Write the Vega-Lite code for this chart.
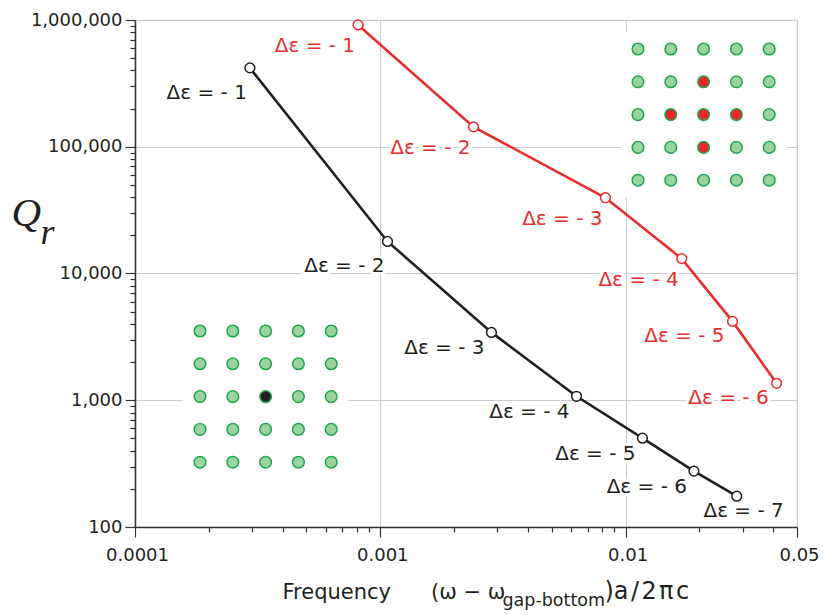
{
  "$schema": "https://vega.github.io/schema/vega-lite/v6.json",
  "width": 662,
  "height": 507,
  "autosize": {"type": "none"},
  "padding": {"left": 135, "top": 20, "right": 27, "bottom": 88},
  "background": "white",
  "config": {
    "view": {"stroke": "#c3c6ce", "strokeWidth": 1.2},
    "font": "DejaVu Sans",
    "axis": {
      "labelFont": "DejaVu Sans",
      "titleFont": "DejaVu Sans",
      "labelColor": "#231f20",
      "titleColor": "#231f20",
      "domainColor": "#333333",
      "tickColor": "#333333",
      "gridColor": "#c9ccd4",
      "domainWidth": 1.5,
      "tickWidth": 1.2,
      "gridWidth": 1
    }
  },
  "resolve": {"scale": {"x": "independent", "y": "independent", "color": "independent"}},
  "layer": [
    {
      "data": {
        "values": [
          {"series": "single", "k": 1, "label": "Δε = - 1", "freq": 0.000294, "Q": 419000},
          {"series": "single", "k": 2, "label": "Δε = - 2", "freq": 0.00107, "Q": 17900},
          {"series": "single", "k": 3, "label": "Δε = - 3", "freq": 0.00284, "Q": 3430},
          {"series": "single", "k": 4, "label": "Δε = - 4", "freq": 0.00631, "Q": 1075},
          {"series": "single", "k": 5, "label": "Δε = - 5", "freq": 0.01172, "Q": 502},
          {"series": "single", "k": 6, "label": "Δε = - 6", "freq": 0.0190, "Q": 276},
          {"series": "single", "k": 7, "label": "Δε = - 7", "freq": 0.0284, "Q": 175},
          {"series": "cluster", "k": 1, "label": "Δε = - 1", "freq": 0.000812, "Q": 914000},
          {"series": "cluster", "k": 2, "label": "Δε = - 2", "freq": 0.0024, "Q": 143500},
          {"series": "cluster", "k": 3, "label": "Δε = - 3", "freq": 0.00828, "Q": 39600},
          {"series": "cluster", "k": 4, "label": "Δε = - 4", "freq": 0.01694, "Q": 13100},
          {"series": "cluster", "k": 5, "label": "Δε = - 5", "freq": 0.0273, "Q": 4190},
          {"series": "cluster", "k": 6, "label": "Δε = - 6", "freq": 0.0413, "Q": 1360}
        ]
      },
      "encoding": {
        "x": {
          "field": "freq",
          "type": "quantitative",
          "scale": {"type": "log", "domain": [0.0001, 0.05], "nice": false},
          "axis": {
            "values": [0.0001, 0.0002, 0.0003, 0.0004, 0.0005, 0.0006, 0.0007, 0.0008, 0.0009, 0.001, 0.002, 0.003, 0.004, 0.005, 0.006, 0.007, 0.008, 0.009, 0.01, 0.02, 0.03, 0.04, 0.05],
            "format": ".4~f",
            "labelExpr": "(abs(log(datum.value)/LN10 - round(log(datum.value)/LN10)) < 1e-6 || abs(datum.value - 0.05) < 1e-9) ? datum.label : ''",
            "tickSize": {"condition": {"test": "abs(log(datum.value)/LN10 - round(log(datum.value)/LN10)) < 1e-6 || abs(datum.value - 0.05) < 1e-9", "value": 10}, "value": 5},
            "gridOpacity": {"condition": {"test": "abs(log(datum.value)/LN10 - round(log(datum.value)/LN10)) < 1e-6", "value": 1}, "value": 0},
            "labelFontSize": 18,
            "labelPadding": 9,
            "labelFlush": false,
            "labelOverlap": false,
            "labelOffset": 2,
            "title": "Frequency\u00a0\u00a0\u00a0\u00a0\u00a0\u00a0(ω\u00a0−\u00a0ω",
            "titleFontSize": 21,
            "titleFontWeight": "normal",
            "titleAlign": "left",
            "titleBaseline": "alphabetic",
            "titleAnchor": "start",
            "titleX": 147,
            "titleY": 71
          }
        },
        "y": {
          "field": "Q",
          "type": "quantitative",
          "scale": {"type": "log", "domain": [100, 1000000], "nice": false},
          "axis": {
            "values": [100, 200, 300, 400, 500, 600, 700, 800, 900, 1000, 2000, 3000, 4000, 5000, 6000, 7000, 8000, 9000, 10000, 20000, 30000, 40000, 50000, 60000, 70000, 80000, 90000, 100000, 200000, 300000, 400000, 500000, 600000, 700000, 800000, 900000, 1000000],
            "format": ",d",
            "labelExpr": "abs(log(datum.value)/LN10 - round(log(datum.value)/LN10)) < 1e-6 ? datum.label : ''",
            "tickSize": {"condition": {"test": "abs(log(datum.value)/LN10 - round(log(datum.value)/LN10)) < 1e-6", "value": 10}, "value": 5},
            "gridOpacity": {"condition": {"test": "abs(log(datum.value)/LN10 - round(log(datum.value)/LN10)) < 1e-6", "value": 1}, "value": 0},
            "labelFontSize": 18,
            "labelPadding": 3,
            "labelFlush": false,
            "labelOverlap": false,
            "title": "Q",
            "titleFont": "Liberation Serif",
            "titleFontStyle": "italic",
            "titleFontWeight": "normal",
            "titleFontSize": 41,
            "titleAngle": 0,
            "titleAlign": "left",
            "titleBaseline": "alphabetic",
            "titleX": -124,
            "titleY": 205
          }
        },
        "color": {
          "field": "series",
          "type": "nominal",
          "scale": {"domain": ["single", "cluster"], "range": ["#231f20", "#e62e2d"]},
          "legend": null
        }
      },
      "layer": [
        {
          "transform": [{"filter": "datum.series == 'single' && datum.k <= 2"}],
          "layer": [
            {"mark": {"type": "text", "align": "right", "baseline": "alphabetic", "dx": -3, "dy": 31, "fontSize": 20, "stroke": "white", "strokeWidth": 6, "strokeJoin": "round"}, "encoding": {"text": {"field": "label"}, "color": {"value": "white"}}},
            {"mark": {"type": "text", "align": "right", "baseline": "alphabetic", "dx": -3, "dy": 31, "fontSize": 20}, "encoding": {"text": {"field": "label"}}}
          ]
        },
        {
          "transform": [{"filter": "datum.series == 'single' && datum.k >= 3 && datum.k <= 6"}],
          "layer": [
            {"mark": {"type": "text", "align": "right", "baseline": "alphabetic", "dx": -7, "dy": 22, "fontSize": 20, "stroke": "white", "strokeWidth": 6, "strokeJoin": "round"}, "encoding": {"text": {"field": "label"}, "color": {"value": "white"}}},
            {"mark": {"type": "text", "align": "right", "baseline": "alphabetic", "dx": -7, "dy": 22, "fontSize": 20}, "encoding": {"text": {"field": "label"}}}
          ]
        },
        {
          "transform": [{"filter": "datum.series == 'single' && datum.k == 7"}],
          "layer": [
            {"mark": {"type": "text", "align": "right", "baseline": "alphabetic", "dx": 47, "dy": 21, "fontSize": 20, "stroke": "white", "strokeWidth": 6, "strokeJoin": "round"}, "encoding": {"text": {"field": "label"}, "color": {"value": "white"}}},
            {"mark": {"type": "text", "align": "right", "baseline": "alphabetic", "dx": 47, "dy": 21, "fontSize": 20}, "encoding": {"text": {"field": "label"}}}
          ]
        },
        {
          "transform": [{"filter": "datum.series == 'cluster' && datum.k <= 4"}],
          "layer": [
            {"mark": {"type": "text", "align": "right", "baseline": "alphabetic", "dx": -3, "dy": 27, "fontSize": 20, "stroke": "white", "strokeWidth": 6, "strokeJoin": "round"}, "encoding": {"text": {"field": "label"}, "color": {"value": "white"}}},
            {"mark": {"type": "text", "align": "right", "baseline": "alphabetic", "dx": -3, "dy": 27, "fontSize": 20}, "encoding": {"text": {"field": "label"}}}
          ]
        },
        {
          "transform": [{"filter": "datum.series == 'cluster' && datum.k >= 5"}],
          "layer": [
            {"mark": {"type": "text", "align": "right", "baseline": "alphabetic", "dx": -8, "dy": 21, "fontSize": 20, "stroke": "white", "strokeWidth": 6, "strokeJoin": "round"}, "encoding": {"text": {"field": "label"}, "color": {"value": "white"}}},
            {"mark": {"type": "text", "align": "right", "baseline": "alphabetic", "dx": -8, "dy": 21, "fontSize": 20}, "encoding": {"text": {"field": "label"}}}
          ]
        },
        {
          "mark": {"type": "line", "strokeWidth": 2.6},
          "encoding": {"order": {"field": "k", "type": "quantitative"}}
        },
        {
          "mark": {"type": "point", "shape": "circle", "filled": true, "size": 95, "strokeWidth": 1.5, "opacity": 1},
          "encoding": {
            "color": {"value": "white"},
            "stroke": {"field": "series", "type": "nominal", "scale": {"domain": ["single", "cluster"], "range": ["#231f20", "#e62e2d"]}, "legend": null}
          }
        }
      ]
    },
    {
      "data": {
        "values": [
          {"col": 0, "row": 0, "site": "host"}, {"col": 1, "row": 0, "site": "host"}, {"col": 2, "row": 0, "site": "host"}, {"col": 3, "row": 0, "site": "host"}, {"col": 4, "row": 0, "site": "host"},
          {"col": 0, "row": 1, "site": "host"}, {"col": 1, "row": 1, "site": "host"}, {"col": 2, "row": 1, "site": "host"}, {"col": 3, "row": 1, "site": "host"}, {"col": 4, "row": 1, "site": "host"},
          {"col": 0, "row": 2, "site": "host"}, {"col": 1, "row": 2, "site": "host"}, {"col": 2, "row": 2, "site": "defect"}, {"col": 3, "row": 2, "site": "host"}, {"col": 4, "row": 2, "site": "host"},
          {"col": 0, "row": 3, "site": "host"}, {"col": 1, "row": 3, "site": "host"}, {"col": 2, "row": 3, "site": "host"}, {"col": 3, "row": 3, "site": "host"}, {"col": 4, "row": 3, "site": "host"},
          {"col": 0, "row": 4, "site": "host"}, {"col": 1, "row": 4, "site": "host"}, {"col": 2, "row": 4, "site": "host"}, {"col": 3, "row": 4, "site": "host"}, {"col": 4, "row": 4, "site": "host"}
        ]
      },
      "encoding": {
        "x": {
          "field": "col",
          "type": "quantitative",
          "scale": {"domain": [-1.982, 18.201], "nice": false, "zero": false},
          "axis": {
            "orient": "bottom", "labels": false, "ticks": false, "domain": false, "grid": false,
            "title": "gap-bottom", "titleFontSize": 17.5, "titleFontWeight": "normal",
            "titleAlign": "left", "titleBaseline": "alphabetic", "titleX": 367, "titleY": 78
          }
        },
        "y": {
          "field": "row",
          "type": "quantitative",
          "scale": {"domain": [-9.482, 5.976], "reverse": true, "nice": false, "zero": false},
          "axis": {
            "orient": "left", "labels": false, "ticks": false, "domain": false, "grid": false,
            "title": "r", "titleFont": "Liberation Serif", "titleFontStyle": "italic", "titleFontWeight": "normal",
            "titleFontSize": 36, "titleAngle": 0, "titleAlign": "left", "titleBaseline": "alphabetic",
            "titleX": -95, "titleY": 223
          }
        }
      },
      "layer": [
        {"mark": {"type": "square", "size": 1150, "color": "white", "opacity": 1}},
        {
          "mark": {"type": "circle", "size": 135, "stroke": "#1ba84b", "strokeWidth": 1.5, "opacity": 1},
          "encoding": {"color": {"field": "site", "type": "nominal", "scale": {"domain": ["host", "defect"], "range": ["#9dd3a1", "#231f20"]}, "legend": null}}
        }
      ]
    },
    {
      "data": {
        "values": [
          {"col": 0, "row": 0, "site": "host"}, {"col": 1, "row": 0, "site": "host"}, {"col": 2, "row": 0, "site": "host"}, {"col": 3, "row": 0, "site": "host"}, {"col": 4, "row": 0, "site": "host"},
          {"col": 0, "row": 1, "site": "host"}, {"col": 1, "row": 1, "site": "host"}, {"col": 2, "row": 1, "site": "defect"}, {"col": 3, "row": 1, "site": "host"}, {"col": 4, "row": 1, "site": "host"},
          {"col": 0, "row": 2, "site": "host"}, {"col": 1, "row": 2, "site": "defect"}, {"col": 2, "row": 2, "site": "defect"}, {"col": 3, "row": 2, "site": "defect"}, {"col": 4, "row": 2, "site": "host"},
          {"col": 0, "row": 3, "site": "host"}, {"col": 1, "row": 3, "site": "host"}, {"col": 2, "row": 3, "site": "defect"}, {"col": 3, "row": 3, "site": "host"}, {"col": 4, "row": 3, "site": "host"},
          {"col": 0, "row": 4, "site": "host"}, {"col": 1, "row": 4, "site": "host"}, {"col": 2, "row": 4, "site": "host"}, {"col": 3, "row": 4, "site": "host"}, {"col": 4, "row": 4, "site": "host"}
        ]
      },
      "encoding": {
        "x": {
          "field": "col",
          "type": "quantitative",
          "scale": {"domain": [-15.335, 4.848], "nice": false, "zero": false},
          "axis": {
            "orient": "bottom", "labels": false, "ticks": false, "domain": false, "grid": false,
            "title": ")a\u200a/\u200a2\u200aπ\u200ac", "titleFontSize": 24, "titleFontWeight": "normal",
            "titleAlign": "left", "titleBaseline": "alphabetic", "titleX": 469, "titleY": 71
          }
        },
        "y": {
          "field": "row",
          "type": "quantitative",
          "scale": {"domain": [-0.884, 14.573], "reverse": true, "nice": false, "zero": false},
          "axis": null
        }
      },
      "layer": [
        {"mark": {"type": "square", "size": 1150, "color": "white", "opacity": 1}},
        {
          "mark": {"type": "circle", "size": 135, "stroke": "#1ba84b", "strokeWidth": 1.5, "opacity": 1},
          "encoding": {"color": {"field": "site", "type": "nominal", "scale": {"domain": ["host", "defect"], "range": ["#9dd3a1", "#e8262b"]}, "legend": null}}
        }
      ]
    }
  ]
}
